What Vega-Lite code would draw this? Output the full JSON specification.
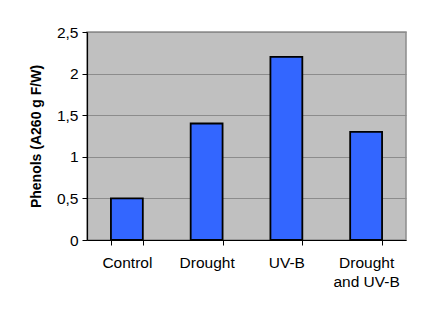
{
  "$schema": "https://vega.github.io/schema/vega-lite/v6.json",
  "autosize": "none",
  "width": 319,
  "height": 208,
  "padding": {"left": 87, "top": 32, "right": 20, "bottom": 72},
  "background": "white",
  "config": {
    "font": "Liberation Sans",
    "view": {"fill": "#C0C0C0", "stroke": "#8C8C8C", "strokeWidth": 1.5}
  },
  "data": {
    "values": [
      {"treatment": "Control", "phenols": 0.5},
      {"treatment": "Drought", "phenols": 1.4},
      {"treatment": "UV-B", "phenols": 2.2},
      {"treatment": "Drought and UV-B", "phenols": 1.3}
    ]
  },
  "mark": {"type": "bar", "fill": "#3366FF", "stroke": "black", "strokeWidth": 1.8},
  "encoding": {
    "x": {
      "field": "treatment",
      "type": "nominal",
      "sort": null,
      "scale": {"paddingInner": 0.6, "paddingOuter": 0.3},
      "axis": {
        "title": null,
        "labelAngle": 0,
        "labelFont": "Liberation Sans",
        "labelFontSize": 15.5,
        "labelColor": "black",
        "labelPadding": 10,
        "labelLineHeight": 19,
        "labelExpr": "datum.value == 'Drought and UV-B' ? ['Drought', 'and UV-B'] : datum.value",
        "tickBand": "extent",
        "tickSize": 5,
        "tickColor": "black",
        "domainColor": "black",
        "domainWidth": 1.2,
        "grid": false
      }
    },
    "y": {
      "field": "phenols",
      "type": "quantitative",
      "scale": {"domain": [0, 2.5], "nice": false},
      "axis": {
        "title": "Phenols (A260 g F/W)",
        "titleFont": "Liberation Sans",
        "titleFontSize": 14,
        "titleFontWeight": "bold",
        "titleColor": "black",
        "titlePadding": 13,
        "titleAnchor": "middle",
        "titleAlign": "center",
        "titleY": 104,
        "values": [0, 0.5, 1, 1.5, 2, 2.5],
        "labelExpr": "replace(format(datum.value, '~g'), '.', ',')",
        "labelFont": "Liberation Sans",
        "labelFontSize": 15.5,
        "labelColor": "black",
        "labelPadding": 4,
        "tickSize": 5,
        "tickColor": "black",
        "domainColor": "black",
        "domainWidth": 1.2,
        "grid": true,
        "gridColor": "#8C8C8C",
        "gridWidth": 1
      }
    }
  }
}
